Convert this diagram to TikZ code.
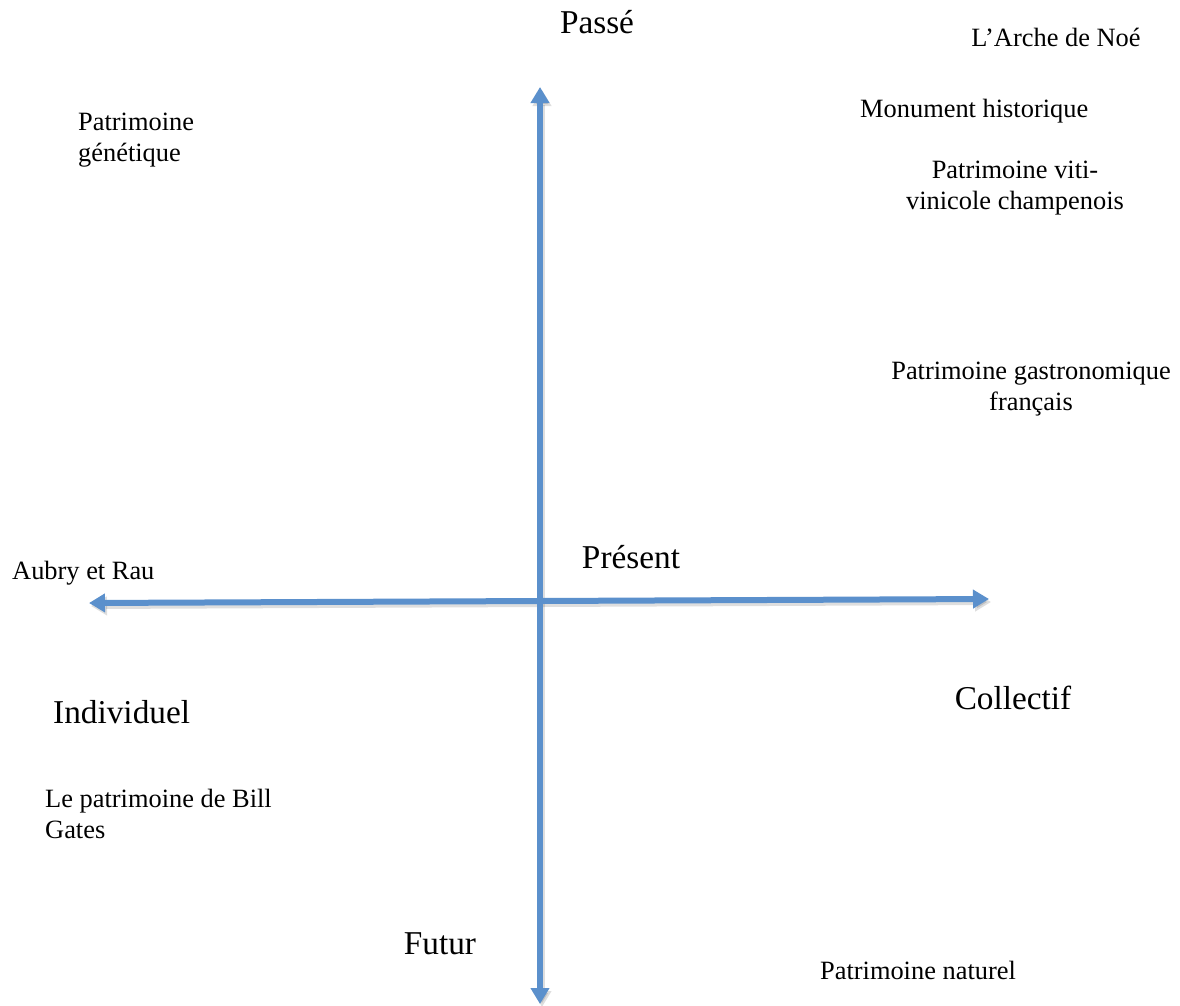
\documentclass[tikz,border=0pt]{standalone}
\usepackage{fontspec}
\setmainfont{Liberation Serif}
\usetikzlibrary{arrows.meta}
\definecolor{axisblue}{RGB}{91,144,204}
\begin{document}
\begin{tikzpicture}[x=1pt,y=-1pt,
  axis/.style={draw=axisblue, line width=6pt,
    {Triangle[width=18pt,length=16pt]}-{Triangle[width=18pt,length=16pt]}},
  shade/.style={draw=black, opacity=0.13, line width=6pt,
    {Triangle[width=18pt,length=16pt]}-{Triangle[width=18pt,length=16pt]}},
  small/.style={font=\fontsize{26.4}{31}\selectfont, inner sep=0pt, anchor=base},
  big/.style={font=\fontsize{33.3}{38}\selectfont, inner sep=0pt, anchor=base},
]
\useasboundingbox (0,0) rectangle (1180,1005);
\fill[white] (0,0) rectangle (1180,1005);

% axes
\coordinate (vtop) at (540,87);
\coordinate (vbot) at (540,1004);
\coordinate (hleft) at (89,603);
\coordinate (hright) at (989,599);
\draw[shade, transform canvas={shift={(2pt,-3pt)}}] (vtop) -- (vbot);
\draw[shade, transform canvas={shift={(2pt,-3pt)}}] (hleft) -- (hright);
\draw[axis] (vtop) -- (vbot);
\draw[axis] (hleft) -- (hright);

% axis labels
\node[big] (passe) at (597,33) {Passé};
\node[big] (present) at (631,568) {Présent};
\node[big] (futur) at (440,954) {Futur};
\node[big, anchor=base west] (indiv) at (53,723) {Individuel};
\node[big] (collectif) at (1013,709) {Collectif};

% examples (multi-line nodes: base = last line)
\node[small] (arche) at (1056,46) {L’Arche de Noé};
\node[small, anchor=base west] (monument) at (860,117) {Monument historique};
\node[small, align=center] (viti) at (1015,209) {Patrimoine viti-\\vinicole champenois};
\node[small, anchor=base west, align=left] (genetique) at (78,161) {Patrimoine\\génétique};
\node[small, align=center] (gastro) at (1031,410) {Patrimoine gastronomique\\français};
\node[small, anchor=base west] (aubry) at (12,579) {Aubry et Rau};
\node[small, anchor=base west, align=left] (bill) at (45,838) {Le patrimoine de Bill\\Gates};
\node[small] (naturel) at (918,979) {Patrimoine naturel};
\end{tikzpicture}
\end{document}
